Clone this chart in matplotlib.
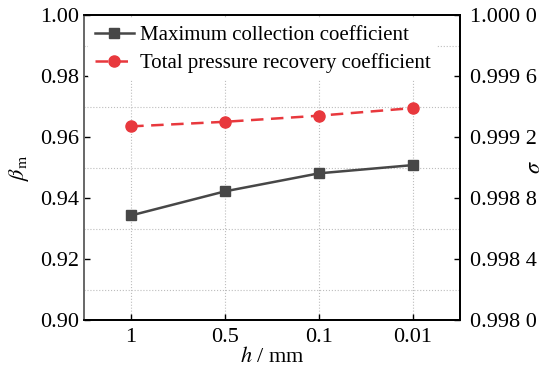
import numpy as np
import matplotlib
matplotlib.use('Agg')
import matplotlib.pyplot as plt
from matplotlib.ticker import MultipleLocator, FuncFormatter

plt.rcParams['font.family'] = ['Liberation Serif', 'DejaVu Serif']
plt.rcParams['mathtext.fontset'] = 'stix'

# --- data ---
h_labels = ['1', '0.5', '0.1', '0.01']
beta_m = [0.9343, 0.9422, 0.9481, 0.9508]          # maximum collection coefficient
sigma = [0.99927, 0.99930, 0.99934, 0.99939]        # total pressure recovery coefficient

x = np.arange(len(h_labels))

fig = plt.figure(figsize=(5.54, 3.67), dpi=100)
ax = fig.add_axes([0.152, 0.128, 0.678, 0.831])
ax2 = ax.twinx()

black = '#474747'
red = '#e8383d'

l1, = ax.plot(x, beta_m, color=black, lw=1.8, marker='s', ms=7,
              label='Maximum collection coefficient', zorder=3)
l2, = ax2.plot(x, sigma, color=red, lw=1.8, ls=(0, (5, 3)), marker='o', ms=8,
               label='Total pressure recovery coefficient', zorder=3)

ax.set_xlim(-0.5, 3.5)
ax.set_ylim(0.90, 1.00)
ax2.set_ylim(0.9980, 1.0000)

ax.set_xticks(x)
ax.set_xticklabels(h_labels)
ax.yaxis.set_major_locator(MultipleLocator(0.02))
ax.yaxis.set_minor_locator(MultipleLocator(0.01))
ax.yaxis.set_major_formatter(FuncFormatter(lambda v, p: f'{v:.2f}'))
ax2.yaxis.set_major_locator(MultipleLocator(0.0004))

def sigma_fmt(v, p):
    s = f'{v:.4f}'
    return s[:-1] + ' ' + s[-1]

ax2.yaxis.set_major_formatter(FuncFormatter(sigma_fmt))

# grid: vertical at categories, horizontal between the major ticks
grid_kw = dict(color='#bdbdbd', ls=':', lw=0.8)
ax.grid(axis='x', which='major', **grid_kw)
ax.grid(axis='y', which='minor', **grid_kw)
ax.set_axisbelow(True)

for a in (ax, ax2):
    a.tick_params(direction='in', length=4, width=1, labelsize=16, pad=4)
    a.tick_params(which='minor', length=0)
    for side in ('top', 'right', 'bottom'):
        a.spines[side].set_color('black')
        a.spines[side].set_linewidth(1.3)
    a.spines['left'].set_color('#6a6a6a')
    a.spines['left'].set_linewidth(1.3)
ax.tick_params(axis='x', pad=6)
ax2.tick_params(axis='y', pad=7)

ax.set_xlabel(r'$h$ / mm', fontsize=16, labelpad=0)
ax.set_ylabel(r'$\beta_{\mathrm{m}}$', fontsize=16, labelpad=6)
ax2.set_ylabel(r'$\sigma$', fontsize=16)
ax2.yaxis.set_label_coords(1.175, 0.5)

leg = ax2.legend(handles=[l1, l2], loc='upper left', fontsize=15, frameon=True,
                 facecolor='white', edgecolor='none', framealpha=1,
                 borderaxespad=0.2, handlelength=1.9, handletextpad=0.3,
                 labelspacing=0.4, borderpad=0.3)

fig.savefig('out.png', dpi=100)
